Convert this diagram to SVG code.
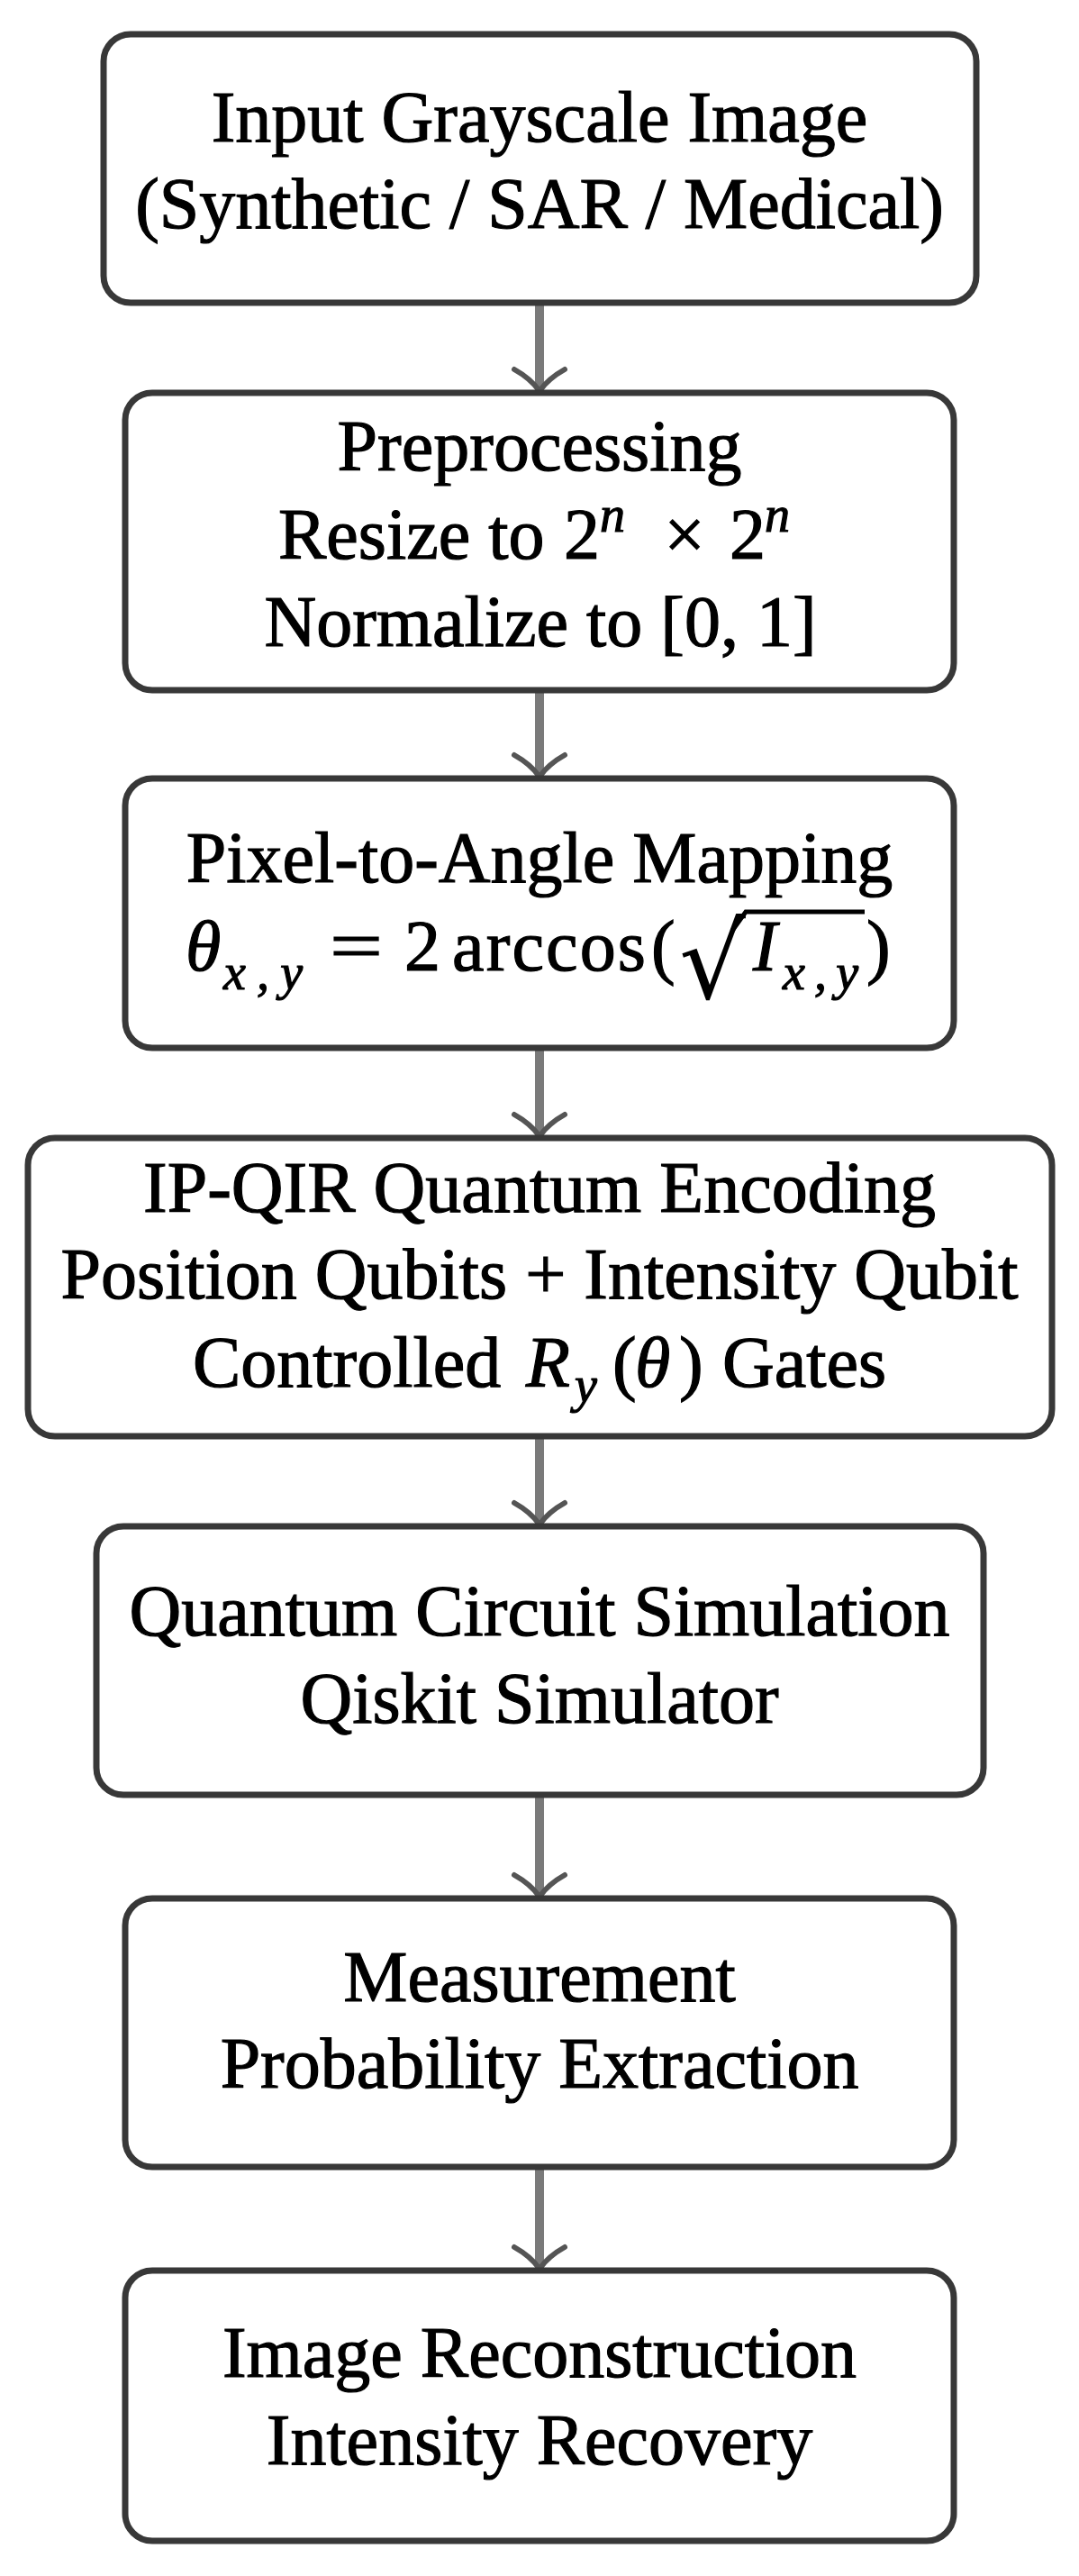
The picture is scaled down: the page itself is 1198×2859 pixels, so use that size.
<svg xmlns="http://www.w3.org/2000/svg" width="1198" height="2859" viewBox="0 0 1198 2859">
<style>
.t { font-family: "Liberation Serif", "Times New Roman", serif; font-size: 80px; fill: #000; stroke: #000; stroke-width: 1.2px; }
.c { text-anchor: middle; }
.i { font-style: italic; }
.s { font-size: 56px; font-style: italic; }
.box { fill: #fff; stroke: #383838; stroke-width: 7; }
.arr { stroke: #7a7a7a; stroke-width: 10; fill: none; }
.head { stroke: #555; stroke-width: 6; fill: none; stroke-linecap: round; }
</style>
<defs>
<path id="tip" d="M-28,-26 Q-10,-16 0,-2 M28,-26 Q10,-16 0,-2" class="head"/>
</defs>
<rect width="1198" height="2859" fill="#fff"/>

<g id="connectors">
  <line class="arr" x1="599" y1="336" x2="599" y2="434"/>
  <use href="#tip" x="599" y="436"/>
  <line class="arr" x1="599" y1="766" x2="599" y2="862"/>
  <use href="#tip" x="599" y="864"/>
  <line class="arr" x1="599" y1="1163" x2="599" y2="1261"/>
  <use href="#tip" x="599" y="1263"/>
  <line class="arr" x1="599" y1="1594" x2="599" y2="1692"/>
  <use href="#tip" x="599" y="1694"/>
  <line class="arr" x1="599" y1="1992" x2="599" y2="2105"/>
  <use href="#tip" x="599" y="2107"/>
  <line class="arr" x1="599" y1="2405" x2="599" y2="2518"/>
  <use href="#tip" x="599" y="2520"/>
</g>

<g id="input">
  <rect class="box" x="115" y="38" width="969" height="298" rx="30"/>
  <text class="t c" x="599" y="157">Input Grayscale Image</text>
  <text class="t c" x="599" y="253">(Synthetic / SAR / Medical)</text>
</g>

<g id="preprocessing">
  <rect class="box" x="139" y="436" width="920" height="330" rx="30"/>
  <text class="t c" x="599" y="522">Preprocessing</text>
  <text class="t" x="309" y="620">Resize to</text>
  <text class="t" x="626" y="620">2</text>
  <text class="t s" x="666" y="590">n</text>
  <text class="t c" x="760" y="620">×</text>
  <text class="t" x="810" y="620">2</text>
  <text class="t s" x="849" y="590">n</text>
  <text class="t c" x="600" y="717">Normalize to [0, 1]</text>
</g>

<g id="mapping">
  <rect class="box" x="139" y="864" width="920" height="299" rx="30"/>
  <text class="t c" x="599" y="979">Pixel-to-Angle Mapping</text>
  <text class="t i" x="206" y="1077">θ</text>
  <text class="t s" x="248" y="1098" textLength="88" lengthAdjust="spacing">x,y</text>
  <text class="t" x="366" y="1077" textLength="59" lengthAdjust="spacingAndGlyphs">=</text>
  <text class="t" x="449" y="1077">2</text>
  <text class="t" x="502" y="1077" textLength="215" lengthAdjust="spacing">arccos</text>
  <text class="t" x="723" y="1077">(</text>
  <text class="t" x="754" y="1108" style="font-family:'DejaVu Serif',serif;font-size:116px;stroke-width:0">√</text>
  <polyline points="813,1033 828,1012 960,1012" fill="none" stroke="#000" stroke-width="5"/>
  <text class="t i" x="836" y="1077">I</text>
  <text class="t s" x="869" y="1098" textLength="84" lengthAdjust="spacing">x,y</text>
  <text class="t" x="962" y="1077">)</text>
</g>

<g id="encoding">
  <rect class="box" x="31" y="1263" width="1137" height="331" rx="30"/>
  <text class="t c" x="599" y="1345">IP-QIR Quantum Encoding</text>
  <text class="t c" x="599" y="1441">Position Qubits + Intensity Qubit</text>
  <text class="t" x="214" y="1539">Controlled</text>
  <text class="t i" x="584" y="1539">R</text>
  <text class="t s" x="638" y="1556">y</text>
  <text class="t" x="680" y="1539">(</text>
  <text class="t i" x="705" y="1539">θ</text>
  <text class="t" x="754" y="1539">)</text>
  <text class="t" x="802" y="1539">Gates</text>
</g>

<g id="simulation">
  <rect class="box" x="107" y="1694" width="985" height="298" rx="30"/>
  <text class="t c" x="599" y="1815">Quantum Circuit Simulation</text>
  <text class="t c" x="599" y="1912">Qiskit Simulator</text>
</g>

<g id="measurement">
  <rect class="box" x="139" y="2107" width="920" height="298" rx="30"/>
  <text class="t c" x="599" y="2221">Measurement</text>
  <text class="t c" x="599" y="2317">Probability Extraction</text>
</g>

<g id="reconstruction">
  <rect class="box" x="139" y="2520" width="920" height="300" rx="30"/>
  <text class="t c" x="599" y="2638">Image Reconstruction</text>
  <text class="t c" x="599" y="2735">Intensity Recovery</text>
</g>
</svg>
